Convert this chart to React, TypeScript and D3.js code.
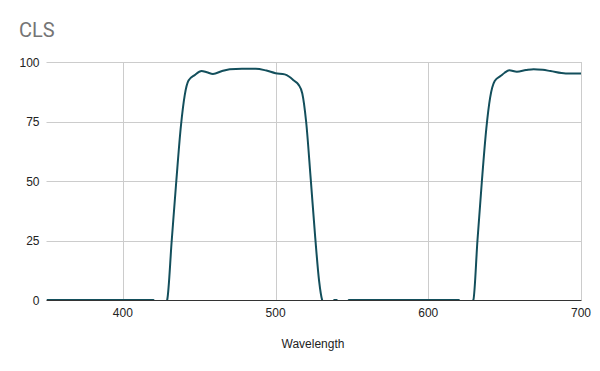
import React from "react";
import * as d3 from "d3";

const wavelengths = [
  350, 420, 421, 428, 429, 432, 435, 438, 440.5, 443, 447, 451.5, 455, 459, 465, 470, 478, 487, 494, 500, 506, 509, 512, 515, 517.5, 520, 523, 526, 528.5, 530.5, 531.5,
  537, 538.5, 540, 541, 547, 548, 620, 621, 628, 629.5, 632.2, 635.1, 638, 640.5, 643.5, 647.5, 650, 653, 658, 664, 669, 675, 680, 690, 700,
];
const transmission = [
  0, 0, -1, -1, 0, 25, 50, 73, 86, 92.2, 94.5, 96.2, 95.7, 95, 96.2, 97, 97.2, 97.2, 96.4, 95.3, 94.8, 93.8, 92.2, 90.5, 86.8, 75, 51, 26, 8, 0, -1,
  -1, 0, 0, -1, -1, 0, 0, -1, -1, 0, 25, 50, 72, 85, 92, 94.2, 95.5, 96.5, 95.9, 96.6, 97, 96.7, 96.2, 95.2, 95.2,
];
const xTicks = [400, 500, 600, 700];
const yTicks = [0, 25, 50, 75, 100];
const title = "CLS";
const xTitle = "Wavelength";

const W = 600;
const H = 371;
const left = 46.5;
const right = 581;
const top = 62;
const bottom = 300;

export default function App() {
  const x = d3.scaleLinear().domain([350, 700]).range([left, right]);
  const y = d3.scaleLinear().domain([0, 100]).range([bottom, top]);
  const pts = wavelengths.map((w, i) => [w, transmission[i]] as [number, number]);
  const line = d3
    .line<[number, number]>()
    .x((d) => x(d[0]))
    .y((d) => y(d[1]))
    .curve(d3.curveMonotoneX);
  return (
    <svg width={W} height={H} style={{ position: "absolute", left: 0, top: 0, background: "#fff" }}>
      <rect x={0} y={0} width={W} height={H} fill="#fff" />
      <text x={19} y={37} fontFamily="Roboto, Arial, sans-serif" fontSize={20} fill="#757575">
        {title}
      </text>
      <defs>
        <clipPath id="plot">
          <rect x={left} y={top - 10} width={right - left + 1} height={bottom - top + 10} />
        </clipPath>
      </defs>
      {yTicks
        .filter((t) => t !== 0)
        .map((t) => (
          <line key={"gy" + t} x1={left} x2={right} y1={Math.round(y(t)) + 0.5} y2={Math.round(y(t)) + 0.5} stroke="#cccccc" strokeWidth={1} />
        ))}
      {xTicks.map((t) => (
        <line key={"gx" + t} x1={Math.round(x(t)) + 0.5} x2={Math.round(x(t)) + 0.5} y1={top} y2={bottom} stroke="#cccccc" strokeWidth={1} />
      ))}
      <path d={line(pts) || ""} fill="none" stroke="#134f5c" strokeWidth={2} clipPath="url(#plot)" />
      <line x1={left} x2={right + 0.5} y1={bottom + 0.5} y2={bottom + 0.5} stroke="#333333" strokeWidth={1} />
      {yTicks.map((t) => (
        <text key={"ty" + t} x={39.5} y={y(t) + 4.5} textAnchor="end" fontFamily="Arial, 'Liberation Sans', sans-serif" fontSize={12} fill="#222222">
          {t}
        </text>
      ))}
      {xTicks.map((t) => (
        <text key={"tx" + t} x={x(t)} y={317} textAnchor="middle" fontFamily="Arial, 'Liberation Sans', sans-serif" fontSize={12} fill="#222222">
          {t}
        </text>
      ))}
      <text x={313} y={348} textAnchor="middle" fontFamily="Arial, 'Liberation Sans', sans-serif" fontSize={12} fill="#222222">
        {xTitle}
      </text>
    </svg>
  );
}
